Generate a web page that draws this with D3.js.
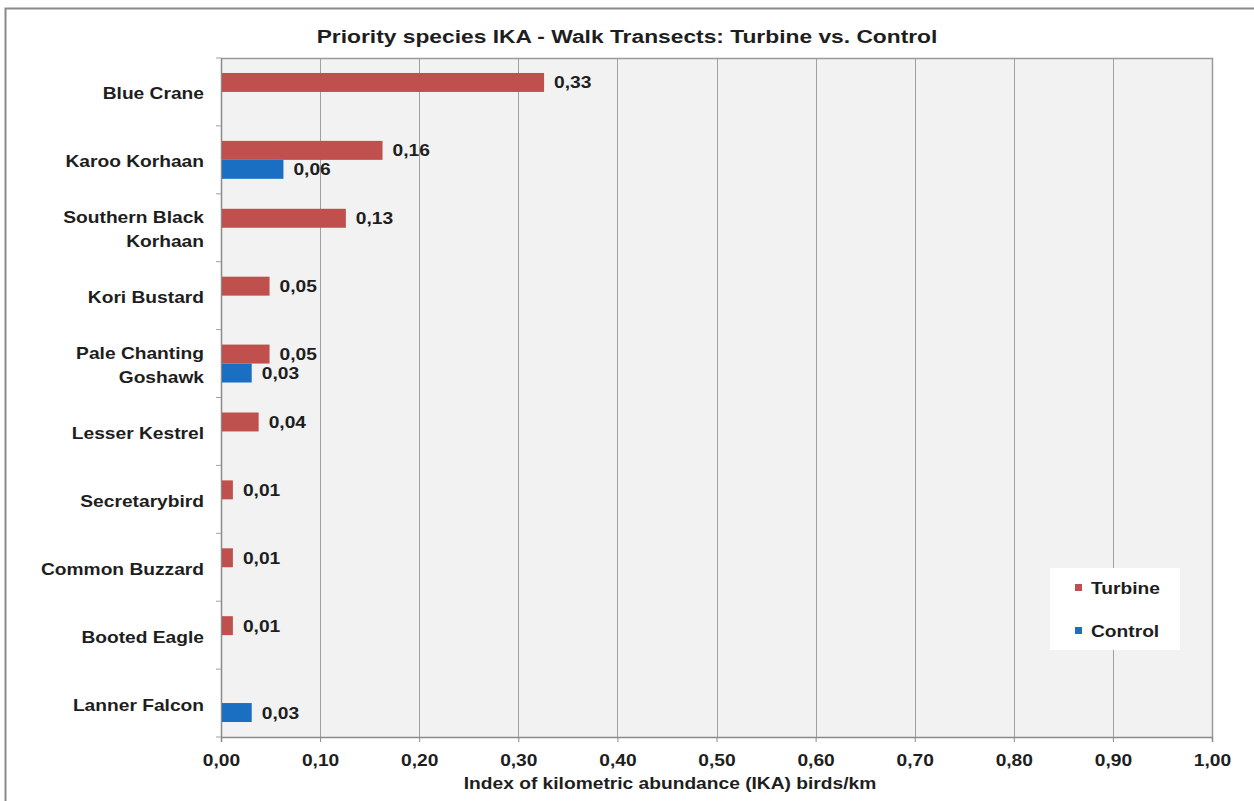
<!DOCTYPE html>
<html>
<head>
<meta charset="utf-8">
<script src="https://cdn.jsdelivr.net/npm/d3@7"></script>
<style>
  html, body { margin: 0; padding: 0; background: #ffffff; }
  svg { display: block; font-family: "Liberation Sans", Arial, sans-serif; }
</style>
</head>
<body>
<svg id="chart" width="1254" height="801"></svg>
<script>
// Species (top to bottom) and IKA values in birds/km
const species = [
  ["Blue Crane"],
  ["Karoo Korhaan"],
  ["Southern Black", "Korhaan"],
  ["Kori Bustard"],
  ["Pale Chanting", "Goshawk"],
  ["Lesser Kestrel"],
  ["Secretarybird"],
  ["Common Buzzard"],
  ["Booted Eagle"],
  ["Lanner Falcon"]
];
const turbine = [0.326, 0.163, 0.126, 0.049, 0.049, 0.038, 0.012, 0.012, 0.012, null];
const control = [null, 0.063, null, null, 0.031, null, null, null, null, 0.031];
const seriesNames = ["Turbine", "Control"];
const seriesColors = ["#c0504d", "#1a6fc2"];
const xTicks = [0, 0.1, 0.2, 0.3, 0.4, 0.5, 0.6, 0.7, 0.8, 0.9, 1.0];

const fmt = v => d3.format(".2f")(v).replace(".", ",");

// wide bold lettering used throughout the chart
const STRETCH = 1.2;
const TXT = "#1e1e1e";

const svg = d3.select("#chart");
const plot = { left: 221, right: 1212, top: 58, bottom: 737 };

function label(g, x, y, text, size, anchor) {
  return g.append("text")
    .attr("transform", `translate(${x},${y}) scale(${STRETCH},1)`)
    .attr("text-anchor", anchor || "start")
    .attr("font-size", size).attr("font-weight", "bold").attr("fill", TXT)
    .text(text);
}

// outer frame
svg.append("rect")
  .attr("x", 5.5).attr("y", 8.5).attr("width", 1260).attr("height", 810)
  .attr("fill", "#ffffff").attr("stroke", "#8a8a8a").attr("stroke-width", 2);

const x = d3.scaleLinear().domain([0, 1]).range([plot.left, plot.right]);
const ids = d3.range(species.length);
const y = d3.scaleBand().domain(ids).range([plot.top, plot.bottom]);
const inner = d3.scaleBand().domain([0, 1]).range([0, y.bandwidth()]).paddingOuter(0.79);

// plot background
svg.append("rect")
  .attr("x", plot.left).attr("y", plot.top)
  .attr("width", plot.right - plot.left).attr("height", plot.bottom - plot.top)
  .attr("fill", "#f2f2f2");

// vertical gridlines
svg.append("g").selectAll("line").data(xTicks.slice(1)).join("line")
  .attr("x1", d => Math.round(x(d)) + 0.5).attr("x2", d => Math.round(x(d)) + 0.5)
  .attr("y1", plot.top).attr("y2", plot.bottom)
  .attr("stroke", "#a0a0a0").attr("stroke-width", 1);

// plot border (top/right)
svg.append("path")
  .attr("d", `M${plot.left},${plot.top + 0.5}H${plot.right + 0.5}V${plot.bottom}`)
  .attr("fill", "none").attr("stroke", "#9a9a9a").attr("stroke-width", 1.5);

// x axis
const xAxis = d3.axisBottom(x).tickValues(xTicks).tickFormat(fmt).tickSize(5).tickPadding(13);
const gx = svg.append("g").attr("transform", `translate(0,${plot.bottom})`).call(xAxis);
gx.select(".domain").attr("stroke", "#8a8a8a").attr("stroke-width", 1.5);
gx.selectAll(".tick line").attr("stroke", "#8a8a8a");
gx.selectAll(".tick text")
  .attr("transform", `scale(${STRETCH},1)`)
  .attr("font-family", "Liberation Sans, Arial, sans-serif")
  .attr("font-size", 16).attr("font-weight", "bold").attr("fill", TXT);

// y axis with ticks on category boundaries
const gy = svg.append("g").attr("transform", `translate(${plot.left},0)`);
gy.append("line")
  .attr("x1", 0.5).attr("x2", 0.5).attr("y1", plot.top).attr("y2", plot.bottom)
  .attr("stroke", "#8a8a8a").attr("stroke-width", 1.5);
gy.selectAll("line.tk").data(d3.range(species.length + 1)).join("line")
  .attr("class", "tk")
  .attr("x1", -5).attr("x2", 0)
  .attr("y1", i => plot.top + i * y.step()).attr("y2", i => plot.top + i * y.step())
  .attr("stroke", "#a0a0a0");

// category labels
const labels = svg.append("g");
ids.forEach(i => {
  const lines = species[i];
  const cy = y(i) + y.bandwidth() / 2 + 7.5;
  const lh = 24;
  lines.forEach((t, k) => {
    label(labels, 204, cy + (k - (lines.length - 1) / 2) * lh, t, 16, "end");
  });
});

// bars and value labels
[turbine, control].forEach((vals, s) => {
  const pts = ids.filter(i => vals[i] != null).map(i => ({ i, v: vals[i] }));
  const g = svg.append("g");
  g.selectAll("rect").data(pts).join("rect")
    .attr("x", x(0) + 1)
    .attr("y", d => y(d.i) + inner(s))
    .attr("width", d => x(d.v) - x(0) - 1)
    .attr("height", inner.bandwidth())
    .attr("fill", seriesColors[s]);
  pts.forEach(d => {
    label(g, x(d.v) + 10, y(d.i) + inner(s) + inner.bandwidth() / 2 + 6, fmt(d.v), 16, "start");
  });
});

// title
label(svg, 627, 43, "Priority species IKA - Walk Transects: Turbine vs. Control", 19, "middle");

// x axis title
label(svg, 670, 789, "Index of kilometric abundance (IKA) birds/km", 16, "middle");

// legend
const lg = svg.append("g");
lg.append("rect")
  .attr("x", 1050).attr("y", 568).attr("width", 130).attr("height", 82)
  .attr("fill", "#ffffff");
seriesNames.forEach((n, k) => {
  const ly = 588 + k * 43;
  lg.append("rect")
    .attr("x", 1075).attr("y", ly - 4).attr("width", 7).attr("height", 7)
    .attr("fill", seriesColors[k]);
  label(lg, 1091, ly + 6, n, 16, "start");
});
</script>
</body>
</html>
